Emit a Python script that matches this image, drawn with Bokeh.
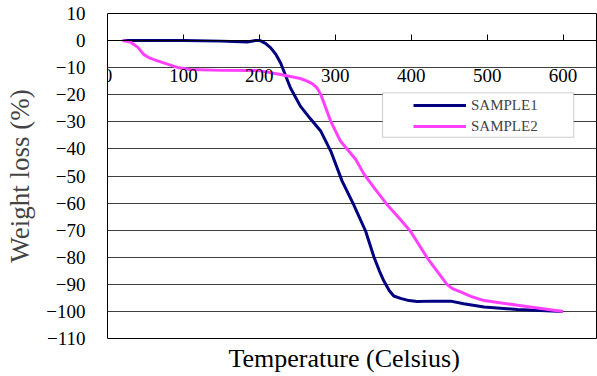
from bokeh.plotting import figure
from bokeh.models import LinearAxis, FixedTicker, Range1d, Legend, LegendItem, BoxAnnotation, Title
from bokeh.embed import file_html
from bokeh.resources import INLINE

# Data
temp1 = [20, 50, 100, 150, 184, 195, 201, 208, 215, 222, 228, 241, 254, 267, 281, 294, 309, 324,
         340, 351, 358, 364, 371, 377, 386, 397, 408, 430, 452, 469, 496, 540, 600]
w1 = [0, 0, 0, -0.2, -0.5, 0, 0, -1, -2.7, -5.2, -8.3, -17.5, -24.2, -28.8, -33.5, -40.8, -51.9,
      -60.5, -70.4, -80, -85, -88.8, -92.3, -94.3, -95.2, -96, -96.3, -96.2, -96.2, -97.2,
      -98.4, -99.3, -100]

temp2 = [20, 30, 40, 48, 56, 65, 80, 92, 109, 150, 200, 228, 254, 263, 270, 276, 281, 285, 294,
         307, 327, 338, 353, 368, 384, 399, 421, 435, 447, 455, 465, 480, 496, 540, 600]
w2 = [0, -0.5, -2.5, -5.2, -6.5, -7.4, -8.8, -9.9, -10.7, -11, -11.1, -12.5, -14, -15, -16,
      -17.5, -20, -23, -29.8, -37.2, -43.9, -49.4, -55, -60.5, -65.5, -70.4, -80.2, -85.5,
      -90, -91.7, -92.8, -94.6, -96, -97.7, -100]

x_ticks = [0, 100, 200, 300, 400, 500, 600]
y_ticks = list(range(-110, 11, 10))
series_names = ["SAMPLE1", "SAMPLE2"]

FONT = "Liberation Serif"

p = figure(width=597, height=376, output_backend="svg", toolbar_location=None,
           x_range=Range1d(0, 644), y_range=Range1d(-110, 10),
           x_axis_type=None, y_axis_location="left",
           min_border_top=13, min_border_bottom=38, min_border_left=107, min_border_right=1)

p.outline_line_color = "black"
p.outline_line_width = 1
p.background_fill_color = "white"
p.border_fill_color = "white"

# y axis
p.yaxis.ticker = FixedTicker(ticks=y_ticks)
p.yaxis.axis_line_color = None
p.yaxis.major_tick_in = 0
p.yaxis.major_tick_out = 0
p.yaxis.minor_tick_line_color = None
p.yaxis.major_label_standoff = 22
p.yaxis.major_label_text_font = FONT
p.yaxis.major_label_text_font_size = "19px"
p.yaxis.major_label_text_color = "black"
p.yaxis.axis_label = "Weight loss (%)"
p.yaxis.axis_label_text_font = FONT
p.yaxis.axis_label_text_font_size = "27px"
p.yaxis.axis_label_text_font_style = "normal"
p.yaxis.axis_label_standoff = 8

p.ygrid.ticker = FixedTicker(ticks=y_ticks)
p.ygrid.grid_line_color = "#404040"
p.ygrid.grid_line_width = 1

# x axis crossing at y = 0
xaxis0 = LinearAxis(ticker=FixedTicker(ticks=x_ticks), fixed_location=0,
                    axis_line_color="black", major_tick_in=6, major_tick_out=0,
                    major_tick_line_color="black", minor_tick_line_color=None,
                    major_label_standoff=28, major_label_text_font=FONT,
                    major_label_text_font_size="19px", major_label_text_color="black")
p.add_layout(xaxis0, "below")

# x axis title
xtitle = Title(text="Temperature (Celsius)", align="left", offset=121,
               text_font=FONT, text_font_size="26px", text_font_style="normal",
               text_color="black", standoff=6)
p.add_layout(xtitle, "below")

r1 = p.line(temp1, w1, line_color="#000080", line_width=3)
r2 = p.line(temp2, w2, line_color="#FF40FF", line_width=3)

# legend box
box = BoxAnnotation(left=362.3, right=614, top=-19.3, bottom=-35.7,
                    fill_color="white", fill_alpha=1, line_color="#555555", line_width=1,
                    level="annotation")
p.add_layout(box)

legend = Legend(items=[LegendItem(label=series_names[0], renderers=[r1]),
                       LegendItem(label=series_names[1], renderers=[r2])],
                location=(306, 202), padding=0, margin=0, spacing=1,
                glyph_width=53, glyph_height=20, label_height=20, label_standoff=5,
                border_line_color=None, background_fill_alpha=0,
                label_text_font=FONT, label_text_font_size="15px")
p.add_layout(legend, "center")

open("out.html", "w").write(file_html(p, INLINE))
